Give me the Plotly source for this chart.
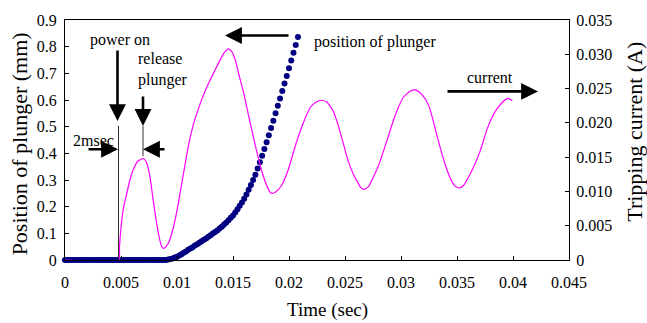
import plotly.graph_objects as go

# ---------------- data ----------------
plunger_t = [
    0.0000, 0.0002, 0.0004, 0.0006, 0.0008, 0.0010, 0.0012, 0.0014, 0.0016, 0.0018,
    0.0020, 0.0022, 0.0024, 0.0026, 0.0028, 0.0030, 0.0032, 0.0034, 0.0036, 0.0038,
    0.0040, 0.0042, 0.0044, 0.0046, 0.0048, 0.0050, 0.0052, 0.0054, 0.0056, 0.0058,
    0.0060, 0.0062, 0.0064, 0.0066, 0.0068, 0.0070, 0.0072, 0.0074, 0.0076, 0.0078,
    0.0080, 0.0082, 0.0084, 0.0086, 0.0088, 0.0090, 0.0092, 0.0094, 0.0096, 0.0098,
    0.0100, 0.0102, 0.0104, 0.0106, 0.0108, 0.0110, 0.0112, 0.0114, 0.0116, 0.0118,
    0.0120, 0.0122, 0.0124, 0.0126, 0.0128, 0.0130, 0.0132, 0.0134, 0.0136, 0.0138,
    0.0140, 0.0142, 0.0144, 0.0146, 0.0148, 0.0150, 0.0152, 0.0154, 0.0156, 0.0158,
    0.0160, 0.0162, 0.0164, 0.0166, 0.0168, 0.0170, 0.0172, 0.0174, 0.0176, 0.0178,
    0.0180, 0.0182, 0.0184, 0.0186, 0.0188, 0.0190, 0.0192, 0.0194, 0.0196, 0.0198,
    0.0200, 0.0202, 0.0204, 0.0206, 0.0208,
]
plunger_mm = [
    0, 0, 0, 0, 0, 0, 0, 0, 0, 0,
    0, 0, 0, 0, 0, 0, 0, 0, 0, 0,
    0, 0, 0, 0, 0, 0, 0, 0, 0, 0,
    0, 0, 0, 0, 0, 0, 0, 0, 0, 0,
    0, 0, 0, 0, 0, 0, 0.002, 0.004, 0.006, 0.009,
    0.012, 0.017, 0.022, 0.027, 0.032, 0.038, 0.043, 0.048, 0.054, 0.059,
    0.065, 0.070, 0.076, 0.081, 0.087, 0.093, 0.099, 0.105, 0.111, 0.118,
    0.125, 0.133, 0.141, 0.149, 0.158, 0.167, 0.178, 0.190, 0.203, 0.216,
    0.230, 0.246, 0.263, 0.281, 0.300, 0.320, 0.343, 0.367, 0.391, 0.416,
    0.442, 0.468, 0.495, 0.522, 0.550, 0.578, 0.606, 0.634, 0.662, 0.690,
    0.719, 0.748, 0.777, 0.806, 0.836,
]

current_t = [
    0.0, 0.0048, 0.00486, 0.00495, 0.00506, 0.0052, 0.0055, 0.0058, 0.0061, 0.0065,
    0.0070, 0.0073, 0.0076, 0.00789, 0.0082, 0.00848, 0.0087, 0.00884, 0.0090, 0.0093,
    0.00967, 0.0100, 0.0103, 0.0106, 0.0110, 0.0115, 0.01205, 0.0125, 0.01295, 0.0134,
    0.0138, 0.0142, 0.01458, 0.0149, 0.0152, 0.0155, 0.01592, 0.0164, 0.01681, 0.0172,
    0.0176, 0.0180, 0.0183, 0.01851, 0.0188, 0.01935, 0.01994, 0.0205, 0.02098, 0.0214,
    0.02188, 0.0224, 0.02292, 0.0234, 0.02396, 0.0244, 0.02485, 0.02527, 0.0257, 0.02604,
    0.0264, 0.0267, 0.0271, 0.0275, 0.0280, 0.02842, 0.0289, 0.02931, 0.0298, 0.0302,
    0.0308, 0.03125, 0.0317, 0.0322, 0.03259, 0.0330, 0.03348, 0.03393, 0.03438, 0.0348,
    0.03521, 0.0356, 0.03616, 0.0366, 0.03705, 0.03765, 0.0381, 0.03855, 0.0390, 0.03944,
    0.0397, 0.03994,
]
current_A = [
    0.0, 0.0, 0.0018, 0.0038, 0.0057, 0.0074, 0.0096, 0.0117, 0.0132, 0.0144,
    0.0148, 0.0141, 0.0120, 0.0085, 0.0052, 0.0028, 0.0018, 0.0017, 0.0019, 0.0027,
    0.0047, 0.0072, 0.0100, 0.0128, 0.0165, 0.0200, 0.0227, 0.0246, 0.0262, 0.0277,
    0.0290, 0.0302, 0.0308, 0.0304, 0.0292, 0.0272, 0.0246, 0.0210, 0.0180, 0.0153,
    0.0128, 0.0109, 0.0099, 0.0097, 0.0099, 0.0109, 0.0132, 0.0163, 0.0187, 0.0205,
    0.0222, 0.0230, 0.0233, 0.0230, 0.0217, 0.0196, 0.0170, 0.0145, 0.0127, 0.0116,
    0.0106, 0.0103, 0.0107, 0.0120, 0.0138, 0.0158, 0.0182, 0.0203, 0.0224, 0.0237,
    0.0246, 0.0248, 0.0244, 0.0234, 0.0220, 0.0195, 0.0165, 0.0140, 0.0120, 0.0108,
    0.0105, 0.0109, 0.0125, 0.0140, 0.0158, 0.0189, 0.0207, 0.0220, 0.0229, 0.0235,
    0.0235, 0.0232,
]

x_ticks = [0, 0.005, 0.01, 0.015, 0.02, 0.025, 0.03, 0.035, 0.04, 0.045]
x_labels = ["0", "0.005", "0.01", "0.015", "0.02", "0.025", "0.03", "0.035", "0.04", "0.045"]
y_ticks = [0, 0.1, 0.2, 0.3, 0.4, 0.5, 0.6, 0.7, 0.8, 0.9]
y_labels = ["0", "0.1", "0.2", "0.3", "0.4", "0.5", "0.6", "0.7", "0.8", "0.9"]
y2_ticks = [0, 0.005, 0.01, 0.015, 0.02, 0.025, 0.03, 0.035]
y2_labels = ["0", "0.005", "0.010", "0.015", "0.020", "0.025", "0.030", "0.035"]

# ---------------- figure ----------------
FONT = "Liberation Serif"
W, H = 647, 323
L, R, T, B = 65, 78, 13, 63
PW, PH = W - L - R, H - T - B


def px(x):
    return (x - L) / PW


def py(y):
    return (H - B - y) / PH


fig = go.Figure()
fig.add_trace(go.Scatter(
    x=plunger_t, y=plunger_mm, mode="markers", name="position of plunger",
    marker=dict(color="#000080", size=6, line=dict(width=0)),
    cliponaxis=False, yaxis="y",
))
fig.add_trace(go.Scatter(
    x=current_t, y=current_A, mode="lines", name="current",
    line=dict(color="#FF00FF", width=1.2, shape="spline", smoothing=0.5),
    yaxis="y2",
))

axis_common = dict(
    showgrid=False, zeroline=False, showline=True, linecolor="black", linewidth=1,
    ticks="inside", ticklen=4, tickcolor="black", tickwidth=1,
    tickfont=dict(family=FONT, size=16, color="black"),
)

fig.update_layout(
    width=W, height=H,
    margin=dict(l=L, r=R, t=T, b=B, pad=0),
    paper_bgcolor="white", plot_bgcolor="white",
    showlegend=False,
    font=dict(family=FONT, color="black"),
    xaxis=dict(range=[0, 0.045], tickvals=x_ticks, ticktext=x_labels,
               mirror=True, ticklabelstandoff=8, **axis_common),
    yaxis=dict(range=[0, 0.9], tickvals=y_ticks, ticktext=y_labels,
               ticklabelstandoff=4, **axis_common),
    yaxis2=dict(range=[0, 0.035], tickvals=y2_ticks, ticktext=y2_labels,
                overlaying="y", side="right", ticklabelstandoff=3, **axis_common),
)

# vertical marker lines
fig.add_shape(type="line", xref="paper", yref="paper",
              x0=px(118.5), x1=px(118.5), y0=py(260), y1=py(122),
              line=dict(color="#303030", width=1))
fig.add_shape(type="line", xref="paper", yref="paper",
              x0=px(143), x1=px(143), y0=py(153), y1=py(122),
              line=dict(color="#303030", width=1))


def arrow(hx, hy, tx, ty):
    fig.add_annotation(xref="paper", yref="paper", x=px(hx), y=py(hy),
                       axref="pixel", ayref="pixel", ax=tx - hx, ay=ty - hy,
                       showarrow=True, arrowhead=2, arrowsize=1.3, arrowwidth=2.6,
                       arrowcolor="black", text="")


def label(x, y, text, size=16, angle=0, align="center"):
    fig.add_annotation(xref="paper", yref="paper", x=px(x), y=py(y), text=text,
                       showarrow=False, textangle=angle, align=align,
                       xanchor="center", yanchor="middle",
                       font=dict(family=FONT, size=size, color="black"))


arrow(117.5, 117, 117.5, 45)     # power on
arrow(143, 122, 143, 91)         # release plunger
arrow(118, 146, 87, 146)         # 2msec right arrow
arrow(143, 146, 166, 146)        # 2msec left arrow
arrow(225, 29, 290, 29)          # position of plunger
arrow(538, 86.5, 446, 86.5)      # current

label(120, 34, "power on")
label(163, 64, "release<br>plunger", align="left")
label(93, 137, "2msec")
label(375, 36, "position of plunger")
label(490, 72, "current")

label(327, 311, "Time (sec)", size=19)
label(19, 141, "Position of plunger (mm)", size=22, angle=-90)
label(635, 128, "Tripping current (A)", size=22, angle=-90)

fig.write_html("out.html")
